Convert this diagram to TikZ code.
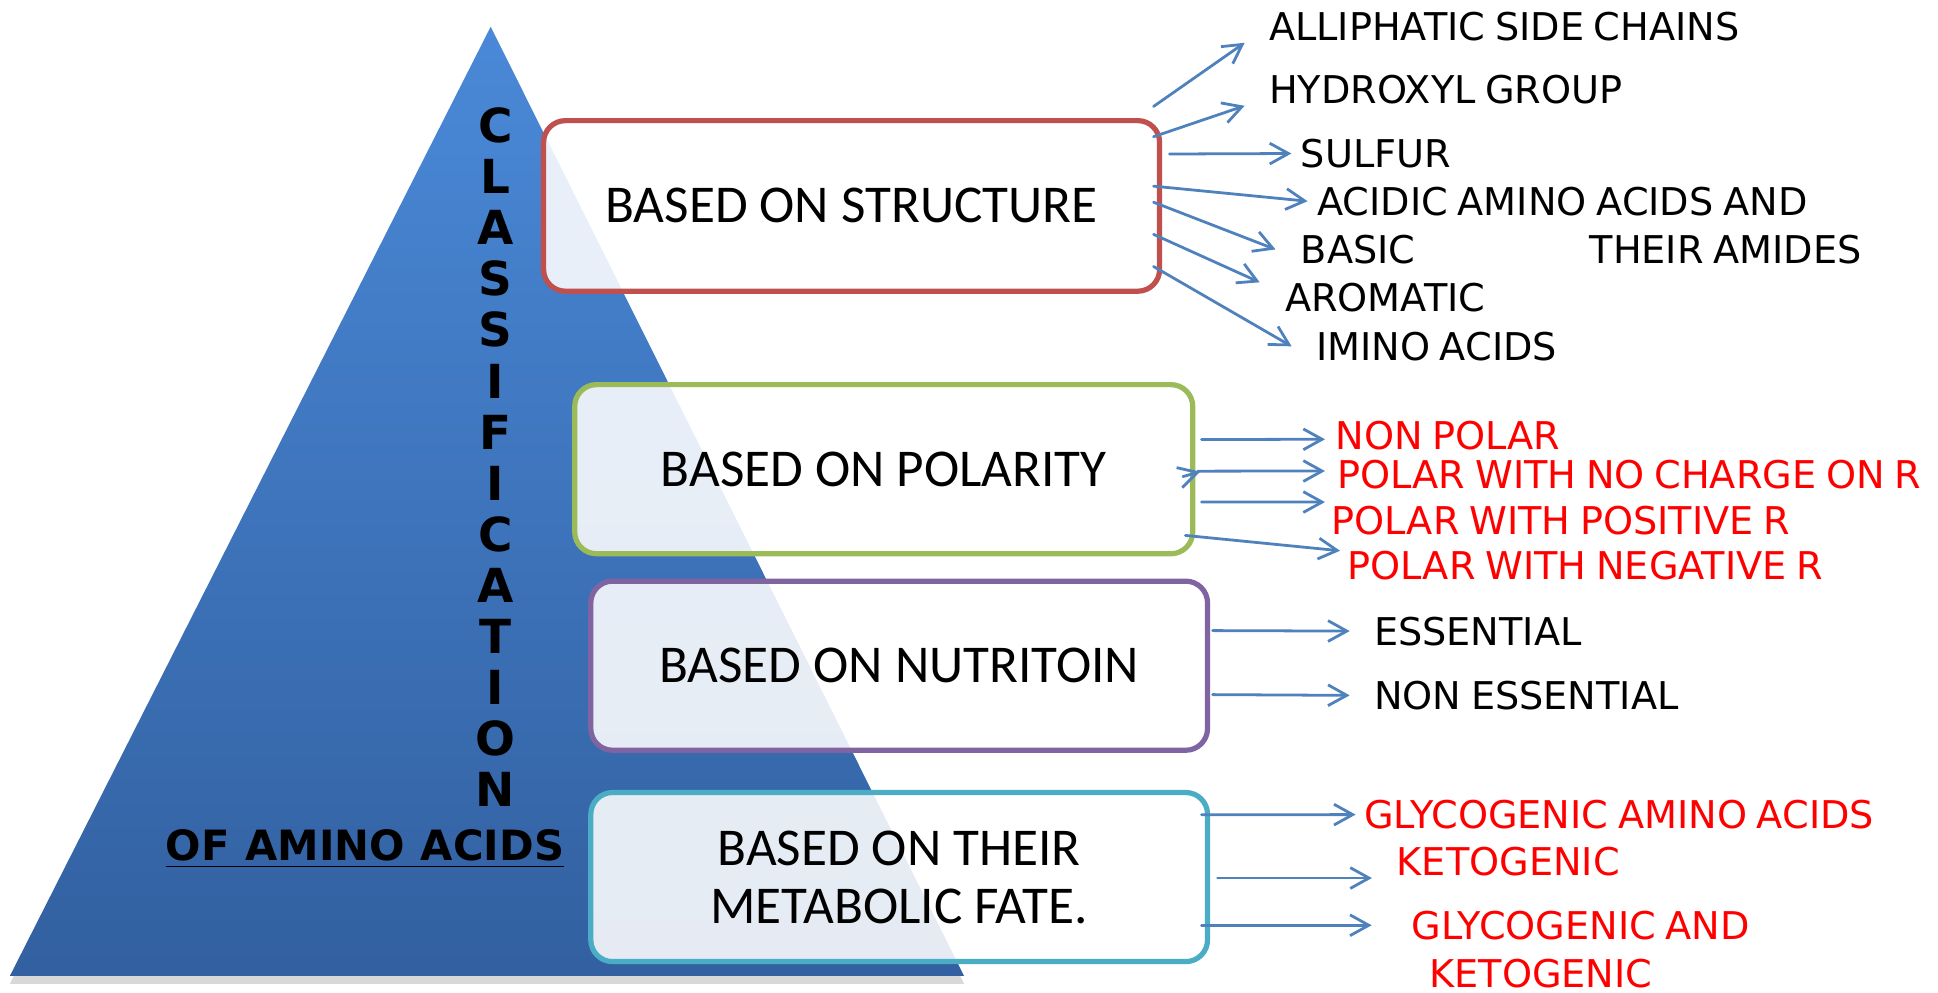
\documentclass[tikz,border=0pt]{standalone}
\usepackage{fontspec}
\setmainfont{Carlito}
\newfontfamily\comicfont[WordSpace=0.8]{DejaVu Sans}
\usetikzlibrary{shapes,arrows.meta,shadows}
\definecolor{tritop}{RGB}{74,137,216}
\definecolor{tribottom}{RGB}{50,96,160}
\definecolor{structred}{RGB}{192,80,77}
\definecolor{polargreen}{RGB}{155,187,89}
\definecolor{nutripurple}{RGB}{128,100,162}
\definecolor{fatecyan}{RGB}{75,172,198}
\definecolor{arrowblue}{RGB}{79,129,189}
\tikzset{
  basebox/.style={shape=rectangle,rounded corners=0.22cm,line width=1.5pt,fill=white,fill opacity=0.88,text opacity=1,minimum width=6.23cm,minimum height=1.71cm,align=center,font=\fontsize{15.3}{16.7}\selectfont},
  item/.style={anchor=west,inner sep=0pt,font=\comicfont\fontsize{11}{13}\selectfont},
  reditem/.style={item,text=red},
  arrow/.style={draw=arrowblue,line width=0.8pt,line cap=round,-{Straight Barb[length=1.9mm,width=2.1mm]}}
}
\begin{document}
\begin{tikzpicture}
\fill[white] (0,0) rectangle (19.6,10.0325);
\shade[top color=tritop,bottom color=tribottom,drop shadow={shadow xshift=0mm,shadow yshift=-0.8mm,opacity=0.3}] (0.1,0.1625) -- (4.9625,9.7625) -- (9.75,0.1625) -- cycle;
\node[font=\comicfont\bfseries\fontsize{13.5}{14.7}\selectfont,align=center,inner sep=0pt] (4) at (5.0125,5.408) {C\\L\\A\\S\\S\\I\\F\\I\\C\\A\\T\\I\\O\\N};
\node[font=\comicfont\bfseries\fontsize{12}{14}\selectfont,anchor=base west,inner sep=0pt] (5) at (1.67,1.325) {\underline{OF\hspace{0.16cm}AMINO\hspace{0.16cm}ACIDS}};
\node[basebox,draw=structred,minimum height=1.725cm] (0) at (8.6125,7.95) {BASED ON STRUCTURE};
\node[basebox,draw=polargreen,minimum width=6.25cm] (1) at (8.9375,5.2875) {BASED ON POLARITY};
\node[basebox,draw=nutripurple,minimum width=6.2375cm] (2) at (9.09375,3.3) {BASED ON NUTRITOIN};
\node[basebox,draw=fatecyan,minimum width=6.2375cm] (3) at (9.09375,1.1625) {BASED ON THEIR\\METABOLIC FATE.};
\node[item] (6) at (12.8275,9.76) {ALLIPHATIC SIDE CHAINS};
\node[item] (7) at (12.8275,9.1275) {HYDROXYL GROUP};
\node[item] (8) at (13.15,8.48) {SULFUR};
\node[item] (9) at (13.314,7.9975) {ACIDIC AMINO ACIDS AND};
\node[item] (10) at (13.15,7.51) {BASIC};
\node[item] (11) at (16.07,7.51) {THEIR AMIDES};
\node[item] (12) at (12.99,7.0275) {AROMATIC};
\node[item] (13) at (13.3025,6.53) {IMINO ACIDS};
\node[reditem] (14) at (13.5,5.63) {NON POLAR};
\node[reditem] (15) at (13.52,5.229) {POLAR WITH NO CHARGE ON R};
\node[reditem] (16) at (13.46,4.77) {POLAR WITH POSITIVE R};
\node[reditem] (17) at (13.6225,4.3125) {POLAR WITH NEGATIVE R};
\node[item] (18) at (13.89,3.65) {ESSENTIAL};
\node[item] (19) at (13.89,3.0) {NON ESSENTIAL};
\node[reditem] (20) at (13.79,1.794) {GLYCOGENIC AMINO ACIDS};
\node[reditem] (21) at (14.12,1.3175) {KETOGENIC};
\node[reditem] (22) at (14.2725,0.675) {GLYCOGENIC AND};
\node[reditem] (23) at (14.45,0.19) {KETOGENIC};
\draw[arrow] ([shift={(-0.0875,1.006)}]0.east) -- ([shift={(-0.24,-0.16)}]6.west);
\draw[arrow] ([shift={(-0.0875,0.7)}]0.east) -- ([shift={(-0.24,-0.165)}]7.west);
\draw[arrow] ([shift={(0.075,0.525)}]0.east) -- ([shift={(-0.09,0)}]8.west);
\draw[arrow] ([shift={(-0.0875,0.2)}]0.east) -- ([shift={(-0.09,0)}]9.west);
\draw[arrow] ([shift={(-0.0875,0.0375)}]0.east) -- ([shift={(-0.25,0)}]10.west);
\draw[arrow] ([shift={(-0.0875,-0.2875)}]0.east) -- ([shift={(-0.25,0.15)}]12.west);
\draw[arrow] ([shift={(-0.0875,-0.6125)}]0.east) -- ([shift={(-0.24,0)}]13.west);
\draw[arrow] ([shift={(0.0625,0.3)}]1.east) -- ([shift={(-0.1,-0.04)}]14.west);
\draw[arrow] ([shift={(0.025,-0.02)}]1.east) -- ([shift={(-0.12,0.04)}]15.west);
\draw[arrow] ([shift={(-0.125,-0.075)}]1.east) -- ([shift={(0.05,-0.025)}]1.east);
\draw[arrow] ([shift={(0.0625,-0.3325)}]1.east) -- ([shift={(-0.06,0.185)}]16.west);
\draw[arrow] ([shift={(-0.1,-0.67)}]1.east) -- ([shift={(-0.07,0.15)}]17.west);
\draw[arrow] ([shift={(0.025,0.355)}]2.east) -- ([shift={(-0.24,0)}]18.west);
\draw[arrow] ([shift={(0.025,-0.2925)}]2.east) -- ([shift={(-0.24,0)}]19.west);
\draw[arrow] ([shift={(-0.0875,0.63)}]3.east) -- ([shift={(-0.08,0)}]20.west);
\draw[arrow] ([shift={(0.075,-0.01)}]3.east) -- ([shift={(-0.245,-0.165)}]21.west);
\draw[arrow] ([shift={(-0.0875,-0.4875)}]3.east) -- ([shift={(-0.4,0)}]22.west);
\end{tikzpicture}
\end{document}
